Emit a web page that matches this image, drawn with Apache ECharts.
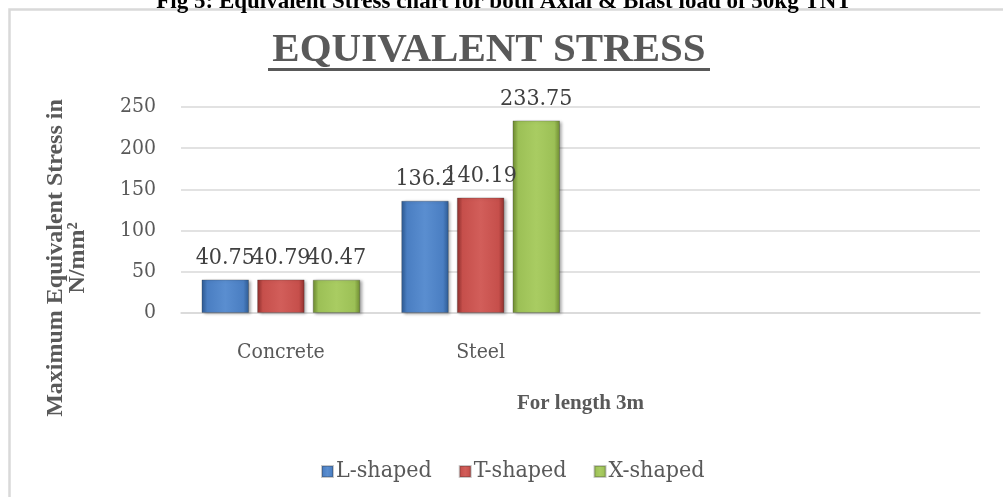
<!DOCTYPE html>
<html>
<head>
<meta charset="utf-8">
<title>Equivalent Stress</title>
<script src="https://cdn.jsdelivr.net/npm/echarts@6/dist/echarts.min.js"></script>
<style>
  html, body { margin: 0; padding: 0; background: #fff; }
  #chart { width: 1003px; height: 497px; }
</style>
</head>
<body>
<div id="chart"></div>
<script>
// chart data
const categories = ['Concrete', 'Steel', ' ', '  '];
const seriesNames = ['L-shaped', 'T-shaped', 'X-shaped'];
const lShaped = [40.75, 136.2];
const tShaped = [40.79, 140.19];
const xShaped = [40.47, 233.75];
const yTicks = [0, 50, 100, 150, 200, 250];

const bodyFont = "'DejaVu Serif Condensed', 'DejaVu Serif', serif";
const boldFont = "'Liberation Serif', 'Times New Roman', serif";

// bevel look: dark edges, lighter middle
const barColor = (edge, mid, light) => new echarts.graphic.LinearGradient(0, 0, 1, 0, [
  { offset: 0, color: edge },
  { offset: 0.12, color: mid },
  { offset: 0.5, color: light },
  { offset: 0.88, color: mid },
  { offset: 1, color: edge }
]);

const palette = [
  barColor('#2d5a92', '#4a7ec2', '#5a8ed0'),
  barColor('#8e2f2c', '#c64f4b', '#d25e5a'),
  barColor('#6d8a30', '#9cc056', '#a9cc62')
];

const makeSeries = (name, data, i) => ({
  name: name,
  type: 'bar',
  data: data,
  barGap: '17%',
  barCategoryGap: '20.5%',
  itemStyle: {
    color: palette[i],
    borderColor: 'rgba(40,40,40,0.25)',
    borderWidth: 1,
    shadowColor: 'rgba(0,0,0,0.35)',
    shadowBlur: 3,
    shadowOffsetX: 2,
    shadowOffsetY: 1
  },
  label: {
    show: true,
    position: 'top',
    distance: 10,
    fontFamily: bodyFont,
    fontSize: 23,
    color: '#404040'
  }
});

const chart = echarts.init(document.getElementById('chart'));

const option = {
  animation: false,
  backgroundColor: '#ffffff',
  graphic: [
    // outer chart frame
    {
      type: 'rect',
      shape: { x: 9.5, y: 9.5, width: 1020, height: 520 },
      style: { fill: 'none', stroke: '#d9d9d9', lineWidth: 2.5 },
      z: -1
    },
    // figure caption, cut off at the top edge
    {
      type: 'text',
      x: 504,
      y: 14,
      style: {
        text: 'Fig 5: Equivalent Stress chart for both Axial & Blast load of 50kg TNT',
        font: 'bold 23px ' + boldFont,
        fill: '#000',
        textAlign: 'center',
        textVerticalAlign: 'bottom'
      }
    },
    // chart title + underline
    {
      type: 'text',
      x: 489,
      y: 50,
      style: {
        text: 'EQUIVALENT STRESS',
        font: 'bold 41px ' + boldFont,
        fill: '#595959',
        textAlign: 'center',
        textVerticalAlign: 'middle'
      }
    },
    {
      type: 'rect',
      shape: { x: 268, y: 68, width: 442, height: 3 },
      style: { fill: '#595959' }
    },
    // y axis title
    {
      type: 'text',
      x: 67,
      y: 258,
      rotation: Math.PI / 2,
      style: {
        text: 'Maximum Equivalent Stress in\nN/mm²',
        font: 'bold 24px ' + boldFont,
        lineHeight: 22,
        fill: '#595959',
        textAlign: 'center',
        textVerticalAlign: 'middle'
      }
    }
  ],
  legend: {
    data: seriesNames,
    left: 316,
    top: 455,
    icon: 'rect',
    itemWidth: 11,
    itemHeight: 11,
    itemGap: 27,
    textStyle: {
      fontFamily: bodyFont,
      fontSize: 23,
      color: '#595959',
      padding: [0, 0, 0, -2]
    }
  },
  grid: {
    left: 181,
    right: 23,
    top: 107,
    bottom: 184,
    containLabel: false
  },
  xAxis: {
    type: 'category',
    data: categories,
    name: 'For length 3m',
    nameLocation: 'middle',
    nameGap: 80,
    nameTextStyle: {
      fontFamily: boldFont,
      fontWeight: 'bold',
      fontSize: 21,
      color: '#595959'
    },
    axisLine: { lineStyle: { color: '#d9d9d9', width: 1.5 } },
    axisTick: { show: false },
    axisLabel: {
      margin: 29,
      fontFamily: bodyFont,
      fontSize: 21,
      color: '#595959'
    }
  },
  yAxis: {
    type: 'value',
    min: yTicks[0],
    max: yTicks[yTicks.length - 1],
    interval: yTicks[1] - yTicks[0],
    axisLine: { show: false },
    axisTick: { show: false },
    axisLabel: {
      margin: 25,
      fontFamily: bodyFont,
      fontSize: 21,
      color: '#595959'
    },
    splitLine: { lineStyle: { color: '#d9d9d9', width: 1.5 } }
  },
  series: [
    makeSeries(seriesNames[0], lShaped, 0),
    makeSeries(seriesNames[1], tShaped, 1),
    makeSeries(seriesNames[2], xShaped, 2)
  ]
};

chart.setOption(option);
</script>
</body>
</html>
